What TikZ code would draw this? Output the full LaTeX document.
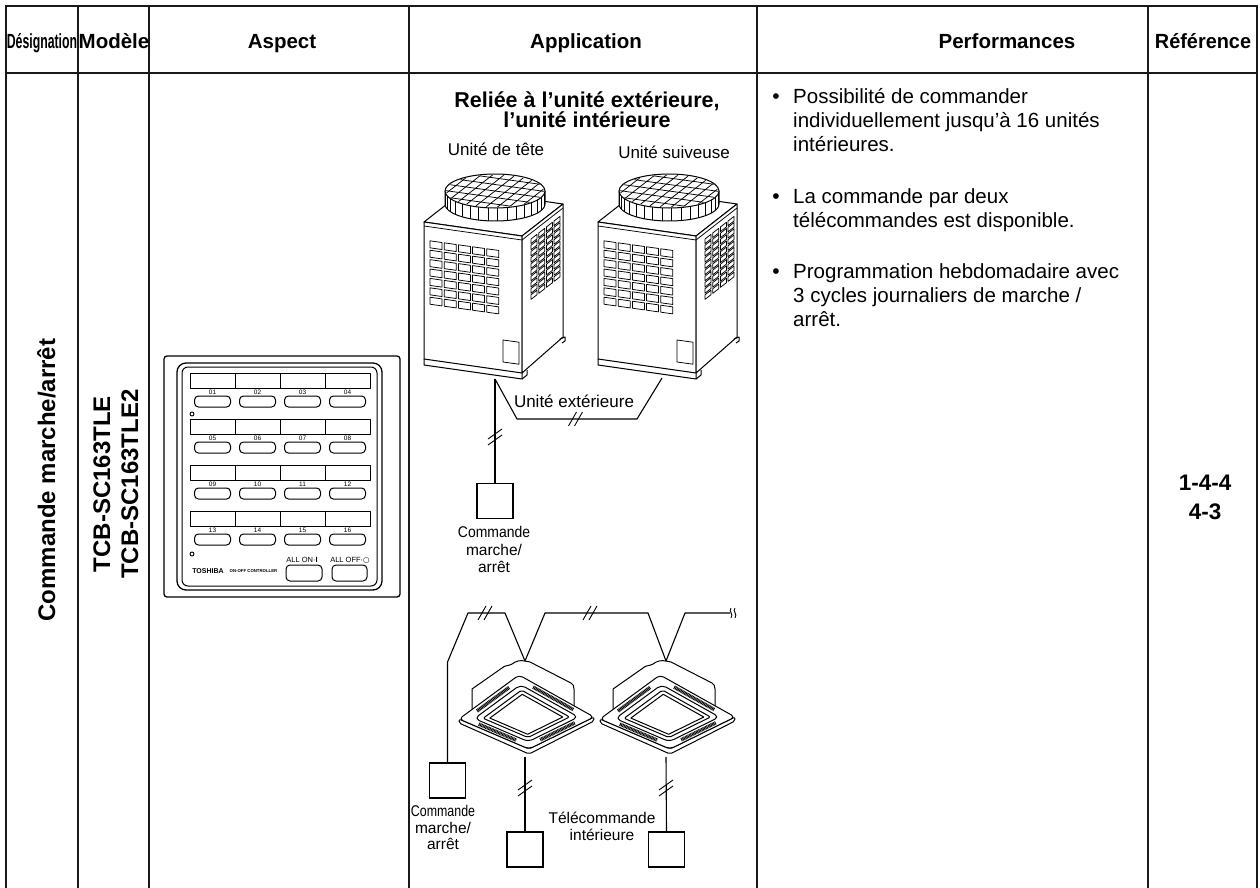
\documentclass[tikz,border=0pt]{standalone}
\usepackage{fontspec}
\setmainfont{Liberation Sans}
\newfontfamily\djv{DejaVu Sans}
\begin{document}
\begin{tikzpicture}[x=1pt,y=-1pt,
  tblouter/.style={line width=2pt, line cap=rect, draw=black!90},
  tblinner/.style={line width=1.4pt, draw=black!90},
  hdr/.style={font=\bfseries\fontsize{20.5}{24}\selectfont, inner sep=0, anchor=base},
  body/.style={font=\fontsize{20.5}{24}\selectfont, inner sep=0, anchor=base west},
  bul/.style={font=\fontsize{21}{24}\selectfont, inner sep=0, anchor=base},
  vtitle/.style={font=\bfseries\fontsize{24}{28}\selectfont, inner sep=0, anchor=base, rotate=90},
  reftxt/.style={font=\bfseries\fontsize{22.5}{26}\selectfont, inner sep=0, anchor=base},
  ttl/.style={font=\bfseries\fontsize{21.5}{24}\selectfont, inner sep=0, anchor=base},
  lbl/.style={font=\fontsize{17}{20}\selectfont, inner sep=0, anchor=base},
  sml/.style={font=\fontsize{15.5}{18}\selectfont, inner sep=0, anchor=base},
  ctrltxt/.style={font=\fontsize{6.5}{8}\selectfont, inner sep=0},
  ln/.style={line width=1pt, line join=round},
  thinln/.style={line width=0.75pt, line join=round},
  wire/.style={line width=1.1pt, line join=round},
  louvre/.style={line width=3.5pt, dash pattern=on 0.9pt off 0.6pt},
  ctrlbox/.style={draw, line width=1.4pt, minimum width=36pt, minimum height=35pt, inner sep=0},
  outdoor/.pic={
    % top face
    \filldraw[ln, fill=white] (0,0) -- (98,14) -- (139,-18) -- (41,-32) -- cycle;
    % fan cylinder
    \filldraw[ln, fill=white] (21,-31) -- (21,-18) -- plot[domain=180:0, samples=40] ({71+50*cos(\x)},{-18+17*sin(\x)}) -- (121,-31) -- cycle;
    \foreach \a in {10,21,...,175} \draw[thinln] ({71+50*cos(\a)},{-31+17*sin(\a)}) -- ({71+50*cos(\a)},{-18+17*sin(\a)});
    \filldraw[ln, fill=white] (71,-31) ellipse [x radius=50, y radius=17];
    \begin{scope}
      \clip (71,-31) ellipse [x radius=49, y radius=16];
      \foreach \k in {-6,...,6} \draw[thinln] (0,{-31+6.5*\k-9.9}) -- (142,{-31+6.5*\k+9.9});
      \foreach \k in {-7,...,7} \draw[thinln] ({71+11.5*\k-41},1) -- ({71+11.5*\k+41},-63);
    \end{scope}
    % front face
    \filldraw[ln, fill=white] (0,0) -- (98,14) -- (98,151) -- (0,137) -- cycle;
    \draw[thinln] (0,4) -- (98,18);
    % side face
    \filldraw[ln, fill=white] (98,14) -- (139,-18) -- (139,115) -- (98,151) -- cycle;
    \draw[thinln] (98,18) -- (139,-14);
    % front grille
    \foreach \c in {0,...,4} \foreach \r in {0,...,6} {
      \pgfmathsetmacro{\gx}{6+14.2*\c}
      \pgfmathsetmacro{\gy}{18+9.4*\r+0.14*\gx}
      \draw[thinln] (\gx,\gy) -- ++(12,1.68) -- ++(0,7) -- ++(-12,-1.68) -- cycle;
    }
    % side grille
    \foreach \c in {0,...,3} \foreach \r in {0,...,9} {
      \pgfmathsetmacro{\gx}{107+7.7*\c}
      \pgfmathsetmacro{\gy}{17+6.2*\r-0.78*(\gx-107)}
      \draw[thinln] (\gx,\gy) -- ++(6,-4.68) -- ++(0,4.6) -- ++(-6,4.68) -- cycle;
    }
    % door
    \draw[thinln] (79,118) -- (95,120.2) -- (95,142.2) -- (79,140) -- cycle;
    % plinth and feet
    \draw[ln] (0,137) -- (0,143) -- (98,157) -- (98,151);
    \draw[ln] (98,157) -- (103,153) -- (103,148);
    \draw[ln] (136,117) -- (141,115) -- (141,119) -- (138,121);
  },
  cassette/.pic={
    % housing
    \filldraw[ln, fill=white] (-53,50) -- (-53,28) -- (-23,7) .. controls (-20,4) and (-16,5) .. (-13,3) .. controls (-9,0) and (-5,-1) .. (0,0) -- (5,1) -- (46,22) .. controls (48,23) and (49,25) .. (49,28) -- (49,46);
    \begin{scope}[shift={(1,56)}]
      \filldraw[ln, fill=white, rounded corners=2] (-67,2) -- (-67,6) -- (3,37) -- (68,4) -- (68,0) -- (3,32) -- cycle;
      \filldraw[ln, fill=white, rounded corners=4] (-67,2) -- (-7,-42) -- (68,0) -- (3,32) -- cycle;
      \begin{scope}[scale=0.89]
        \draw[louvre] (-55,-6.8) -- (-19,-33.2);
        \draw[louvre] (8,-33.6) -- (53,-8.4);
        \draw[louvre] (-53,8) -- (-11,26);
        \draw[louvre] (16,25.6) -- (55,6.4);
      \end{scope}
      \begin{scope}[scale=0.77]
        \draw[ln, rounded corners=5] (-67,2) -- (-7,-42) -- (68,0) -- (3,32) -- cycle;
      \end{scope}
      \begin{scope}[scale=0.64]
        \draw[ln, rounded corners=2] (-67,2) -- (-7,-42) -- (68,0) -- (3,32) -- cycle;
      \end{scope}
      \begin{scope}[scale=0.54]
        \draw[ln] (-67,2) -- (-7,-42) -- (68,0) -- (3,32) -- cycle;
      \end{scope}
    \end{scope}
  }
]
\useasboundingbox (0,0) rectangle (1260,888);
\fill[white] (0,0) rectangle (1260,888);

% ---------------- table ----------------
\draw[tblouter] (6,888) -- (6,6) -- (1257,6) -- (1257,888);
\draw[tblouter] (6,73) -- (1257,73);
\foreach \xx in {78,149,409,757,1148} \draw[tblinner] (\xx,6) -- (\xx,888);

% headers
\node[hdr] (hdes) at (42,49) {\scalebox{0.6}[1]{Désignation}};
\node[hdr] (hmod) at (114,49) {Modèle};
\node[hdr] (hasp) at (282,49) {Aspect};
\node[hdr] (happ) at (586,49) {Application};
\node[hdr] (hperf) at (1007,49) {Performances};
\node[hdr] (href) at (1203,49) {\scalebox{0.97}[1]{Référence}};

% designation and model
\node[vtitle] (des) at (55,480) {Commande marche/arrêt};
\node[vtitle] (mod1) at (110,484) {TCB-SC163TLE};
\node[vtitle] (mod2) at (138,484) {TCB-SC163TLE2};

% reference
\node[reftxt] (ref1) at (1205,490) {1-4-4};
\node[reftxt] (ref2) at (1205,519) {4-3};

% performances
\node[bul] (b1) at (776,104) {•};
\node[body] (p11) at (793,104) {Possibilité de commander};
\node[body] (p12) at (793,128) {individuellement jusqu’à 16 unités};
\node[body] (p13) at (793,151) {intérieures.};
\node[bul] (b2) at (776,203) {•};
\node[body] (p21) at (793,203) {La commande par deux};
\node[body] (p22) at (793,227) {télécommandes est disponible.};
\node[bul] (b3) at (776,278) {•};
\node[body] (p31) at (793,278) {Programmation hebdomadaire avec};
\node[body] (p32) at (793,302) {3 cycles journaliers de marche /};
\node[body] (p33) at (793,326) {arrêt.};

% ---------------- aspect: controller ----------------
\draw[line width=1.3pt, rounded corners=3] (164,356) rectangle (400,597);
\draw[line width=1.3pt, rounded corners=9] (177,363) rectangle (382,590);
\draw[line width=1pt, rounded corners=6] (182,367) rectangle (377,586);
\foreach \r in {0,1,2,3} {
  \pgfmathsetmacro{\yy}{373+46*\r}
  \draw[ln] (190,\yy) rectangle (370,\yy+15);
  \foreach \xx in {235,280,325} \draw[ln] (\xx,\yy) -- (\xx,\yy+15);
  \foreach \c in {0,...,3} {
    \pgfmathsetmacro{\cx}{212.5+45*\c}
    \pgfmathtruncatemacro{\num}{4*\r+\c+1}
    \node[ctrltxt] (lab\num) at (\cx,\yy+19.5) {\ifnum\num<10 0\fi\num};
    \draw[ln, rounded corners=4] (\cx-18,\yy+23) rectangle (\cx+18,\yy+34);
  }
}
\draw[line width=0.9pt] (192,414) circle [radius=2];
\draw[line width=0.9pt] (192,554) circle [radius=2];
\node[font=\bfseries\fontsize{7}{8}\selectfont, inner sep=0] (tosh) at (208,571) {TOSHIBA};
\node[font=\bfseries\fontsize{4.3}{5}\selectfont, inner sep=0] (onoff) at (253.5,571) {ON-OFF CONTROLLER};
\node[font=\fontsize{7.5}{9}\selectfont, inner sep=0] (allon) at (302,560) {ALL ON·\textbf{I}};
\node[font=\fontsize{7.5}{9}\selectfont, inner sep=0] (alloff) at (350,560) {ALL OFF·{\djv ○}};
\draw[ln, rounded corners=4] (286,565) rectangle (322,581);
\draw[ln, rounded corners=4] (332,565) rectangle (367,581);

% ---------------- application ----------------
\node[ttl] (t1) at (587,108) {Reliée à l’unité extérieure,};
\node[ttl] (t2) at (587,128) {l’unité intérieure};
\node[lbl] (head) at (496,155) {Unité de tête};
\node[lbl] (foll) at (674,158) {Unité suiveuse};

\pic at (424,222) {outdoor};
\pic at (598,222) {outdoor};

% outdoor wiring
\coordinate (j1) at (495,379);
\coordinate (k1) at (517,419);
\coordinate (k2) at (637,419);
\coordinate (j2) at (662,378);
\node[ctrlbox] (box1) at (495,501) {};
\draw[wire] (j1) -- (box1.north);
\draw[wire] (j1) -- (k1) -- (k2) -- (j2);
\node[lbl] (ext) at (574,407) {Unité extérieure};
\foreach \d in {-3,3} {
  \draw[line width=0.9pt] (488,{437+\d+5}) -- (502,{437+\d-5});
  \draw[line width=0.9pt] ({575.5+\d-4},426) -- ({575.5+\d+4},412);
}
\node[sml] (c1a) at (494,537) {\scalebox{0.9}[1]{Commande}};
\node[sml] (c1b) at (494,555) {marche/};
\node[sml] (c1c) at (494,572) {arrêt};

% indoor units
\pic at (525,661) {cassette};
\pic at (666,661) {cassette};
\coordinate (ca1) at (525,661);
\coordinate (ca2) at (666,661);
\coordinate (w0) at (447.5,662);
\coordinate (w1) at (468,613);
\coordinate (w2) at (505,613);
\coordinate (w3) at (545,613);
\coordinate (w4) at (648,613);
\coordinate (w5) at (685,613);
\coordinate (w6) at (730,613);
\coordinate (cb1) at (525,757);
\coordinate (cb2) at (666,757);
\node[ctrlbox] (box2) at (447.5,780.5) {};
\node[ctrlbox] (box3) at (525,849.5) {};
\node[ctrlbox] (box4) at (666.5,849.5) {};
\draw[wire] (box2.north) -- (w0) -- (w1) -- (w2) -- (ca1) -- (w3) -- (w4) -- (ca2) -- (w5) -- (w6);
\draw[wire] (cb1) -- (box3.north);
\draw[wire] (cb2) -- (box4.north);
\foreach \d in {-3,3} {
  \draw[line width=0.9pt] ({485+\d-4},620) -- ({485+\d+4},606);
  \draw[line width=0.9pt] ({590+\d-4},620) -- ({590+\d+4},606);
  \draw[line width=0.9pt] (518,{788+\d+5}) -- (532,{788+\d-5});
  \draw[line width=0.9pt] (659,{788+\d+5}) -- (673,{788+\d-5});
}
\draw[line width=0.9pt] (731,608) .. controls (728,611) and (734,614) .. (731,618);
\draw[line width=0.9pt] (735,608) .. controls (732,611) and (738,614) .. (735,618);
\node[sml] (c2a) at (443,816) {\scalebox{0.8}[1]{Commande}};
\node[sml] (c2b) at (443,833) {marche/};
\node[sml] (c2c) at (443,849) {arrêt};
\node[sml] (tc1) at (602,823) {Télécommande};
\node[sml] (tc2) at (602,840) {intérieure};
\end{tikzpicture}
\end{document}
